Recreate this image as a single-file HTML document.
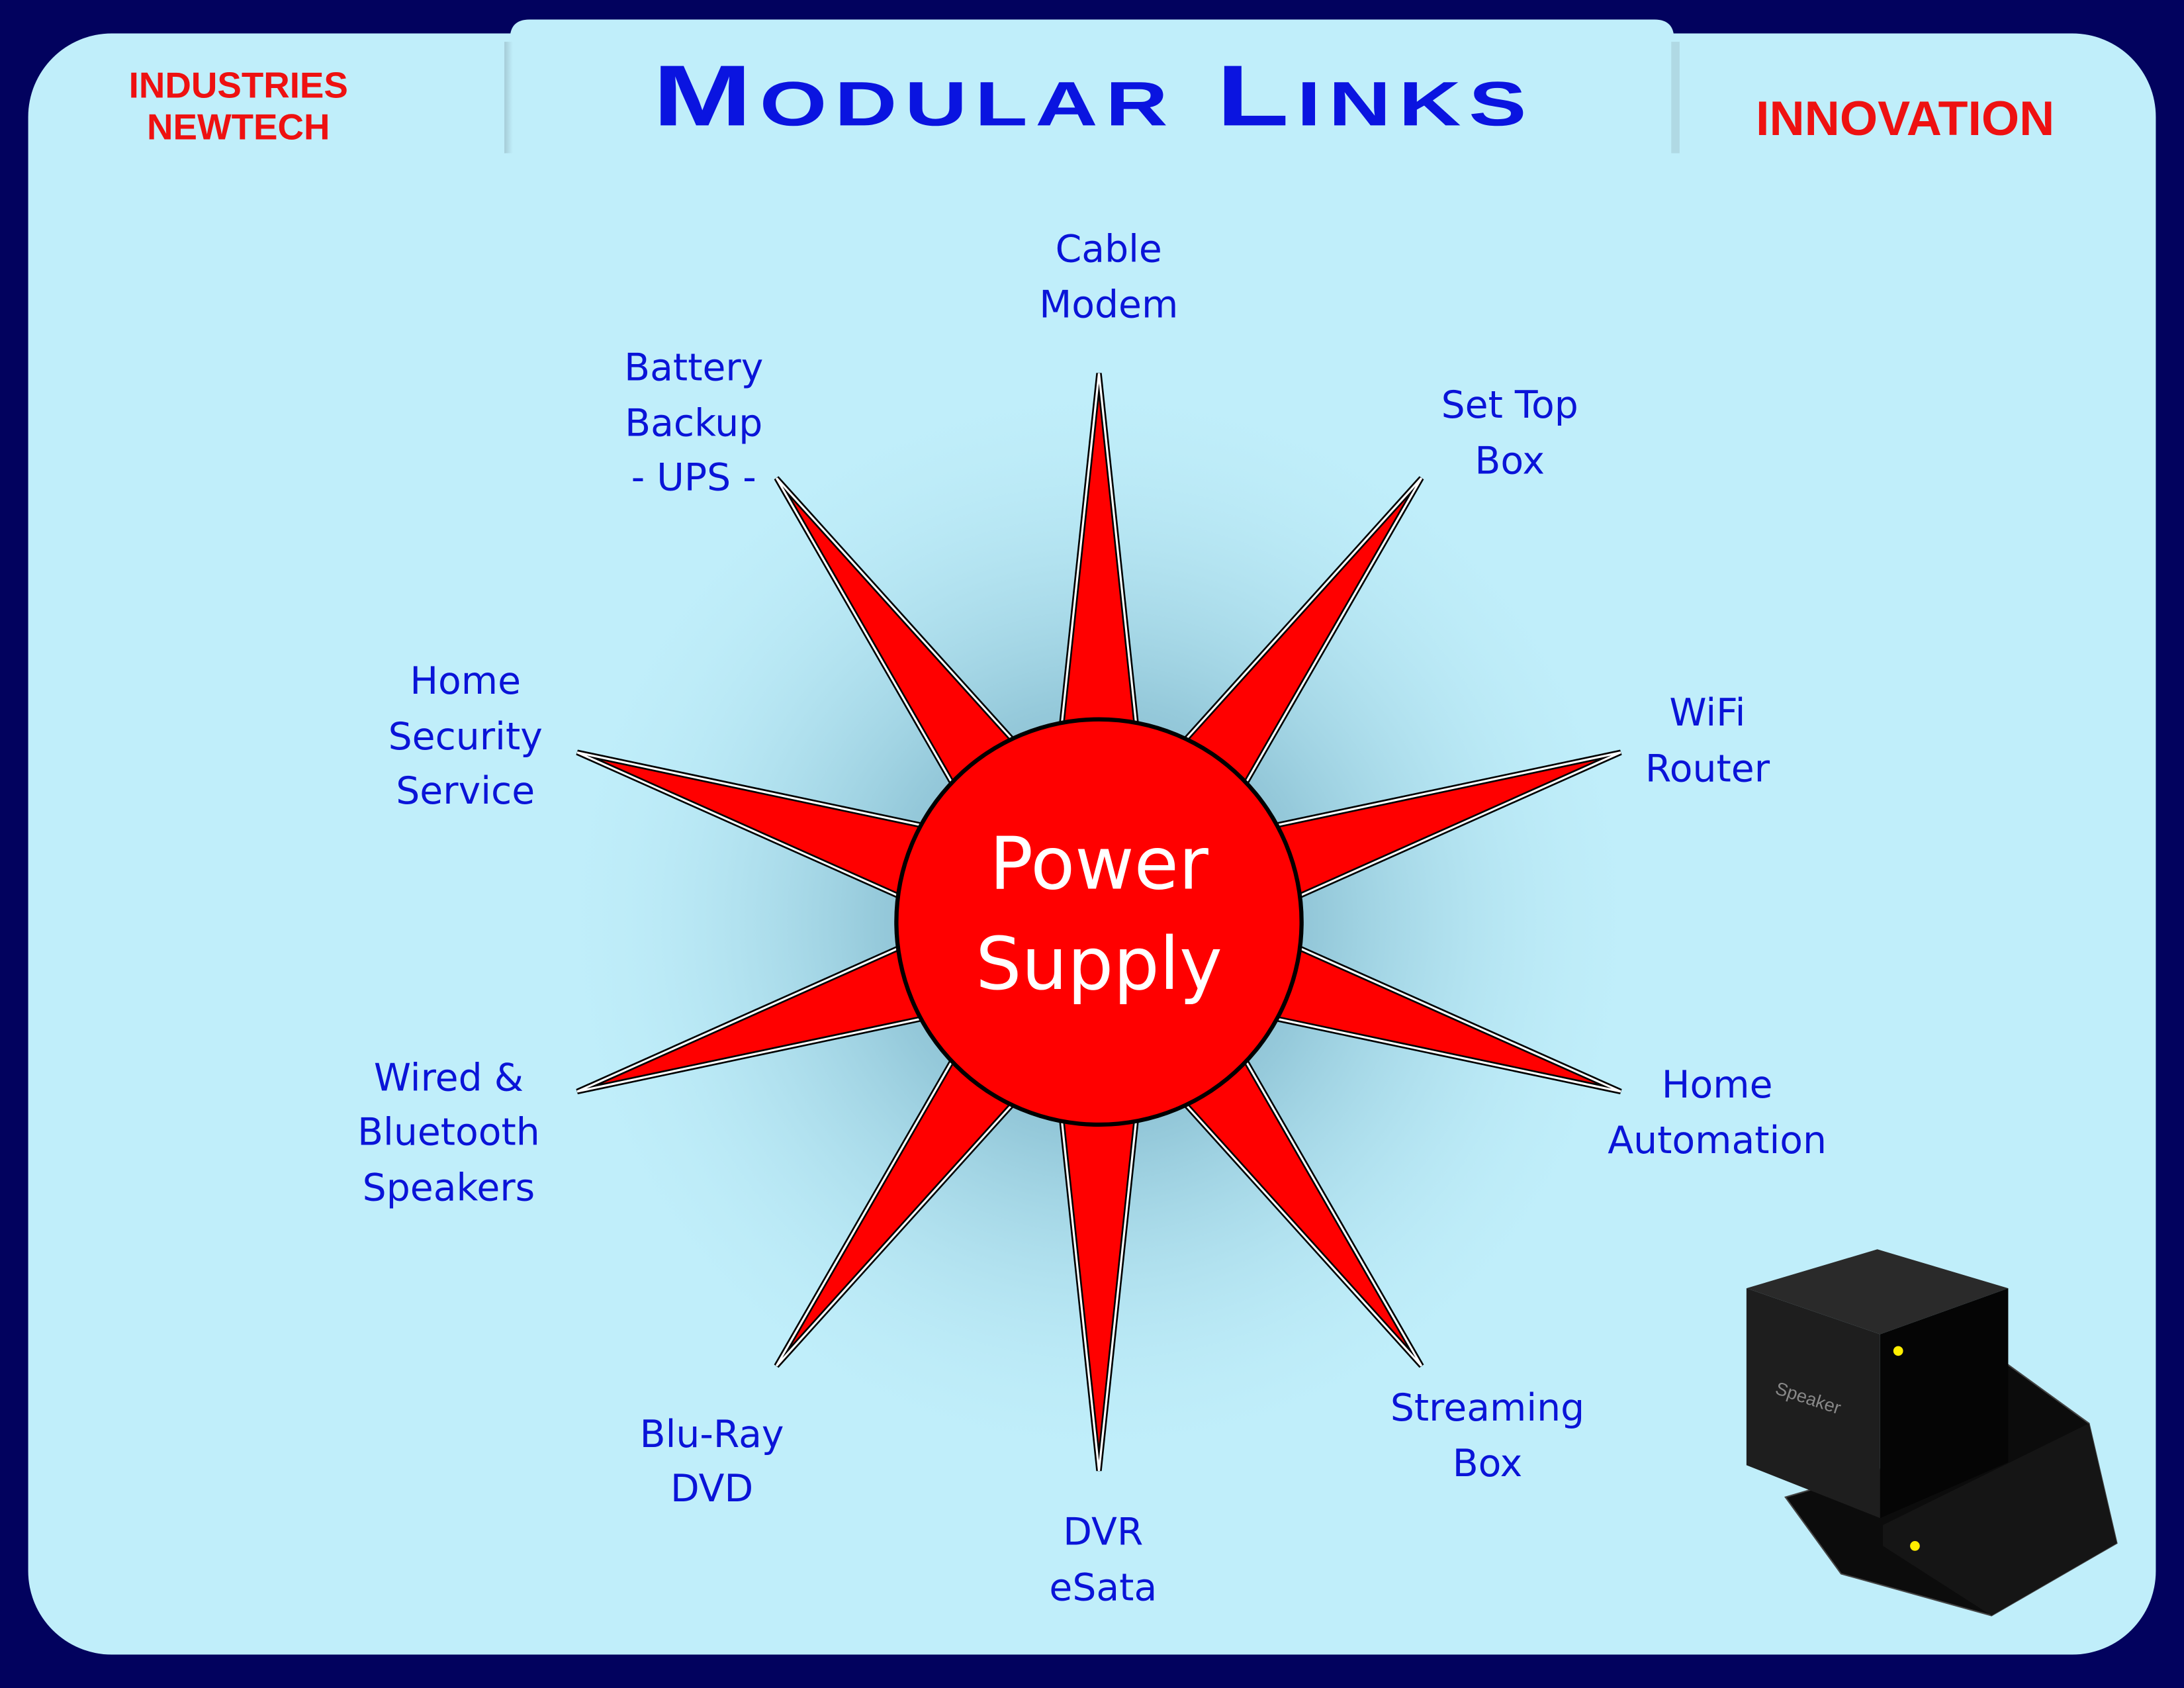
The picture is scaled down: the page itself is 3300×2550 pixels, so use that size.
<!DOCTYPE html>
<html><head><meta charset="utf-8"><style>
html,body{margin:0;padding:0;background:#02025e;}
svg{display:block}
</style></head><body>
<svg width="3300" height="2550" viewBox="0 0 1568 1212" xmlns="http://www.w3.org/2000/svg">
<defs>
<radialGradient id="glow" cx="789" cy="662" r="400" gradientUnits="userSpaceOnUse">
<stop offset="0" stop-color="#6fa2b8"/>
<stop offset="0.4" stop-color="#96cadb"/>
<stop offset="1" stop-color="#c0eefa" stop-opacity="0"/>
</radialGradient>
<linearGradient id="tabL" x1="0" x2="1"><stop offset="0" stop-color="#8aa8b2"/><stop offset="1" stop-color="#c0eefa"/></linearGradient>
</defs>
<rect width="1568" height="1212" fill="#02025e"/>
<rect x="20" y="24" width="1528" height="1164" rx="60" fill="#c0eefa"/>
<path d="M366 110 L366 28 Q366 14 380 14 L1188 14 Q1202 14 1202 28 L1202 110 Z" fill="#c0eefa"/>
<rect x="362" y="30" width="6" height="80" fill="url(#tabL)" opacity="0.5"/>
<rect x="1200" y="30" width="6" height="80" fill="#8aa8b2" opacity="0.3"/>
<g transform="translate(785 90) scale(1.38 1)">
<text x="0" y="0" text-anchor="middle" font-family="Liberation Sans, sans-serif" font-weight="bold" font-size="62" fill="#0a14e0" letter-spacing="4">M<tspan font-size="45">ODULAR</tspan> L<tspan font-size="45">INKS</tspan></text>
</g>
<g font-family="Liberation Sans, sans-serif" font-weight="bold" fill="#ee1111" text-anchor="middle">
<text x="171" y="70" font-size="26">INDUSTRIES</text>
<text x="171" y="100" font-size="26">NEWTECH</text>
<text x="1368" y="97" font-size="35">INNOVATION</text>
</g>
<circle cx="789" cy="662" r="400" fill="url(#glow)"/>
<g transform="translate(789 662)">
<g id="sp">
<polygon points="0,-394 -28,-130 28,-130" fill="#ff0000" stroke="#000" stroke-width="4"/>
<polygon points="0,-394 -28,-130 28,-130" fill="none" stroke="#fff" stroke-width="1.5"/>
</g>
<use href="#sp" transform="rotate(36)"/>
<use href="#sp" transform="rotate(72)"/>
<use href="#sp" transform="rotate(108)"/>
<use href="#sp" transform="rotate(144)"/>
<use href="#sp" transform="rotate(180)"/>
<use href="#sp" transform="rotate(216)"/>
<use href="#sp" transform="rotate(252)"/>
<use href="#sp" transform="rotate(288)"/>
<use href="#sp" transform="rotate(324)"/>
<circle r="147" fill="#000"/>
<circle r="144" fill="#ff0000"/>
</g>
<g font-family="DejaVu Sans, sans-serif" font-size="52" fill="#fff" text-anchor="middle">
<text x="789" y="638">Power</text>
<text x="789" y="710">Supply</text>
</g>
<g font-family="DejaVu Sans, sans-serif" font-size="27" fill="#0a14d8" text-anchor="middle">
<text x="796" y="188">Cable</text><text x="796" y="228">Modem</text>
<text x="1084" y="300">Set Top</text><text x="1084" y="340">Box</text>
<text x="498" y="273">Battery</text><text x="498" y="313">Backup</text><text x="498" y="352">- UPS -</text>
<text x="1226" y="521">WiFi</text><text x="1226" y="561">Router</text>
<text x="334" y="498">Home</text><text x="334" y="538">Security</text><text x="334" y="577">Service</text>
<text x="1233" y="788">Home</text><text x="1233" y="828">Automation</text>
<text x="322" y="783">Wired &amp;</text><text x="322" y="822">Bluetooth</text><text x="322" y="862">Speakers</text>
<text x="511" y="1039">Blu-Ray</text><text x="511" y="1078">DVD</text>
<text x="792" y="1109">DVR</text><text x="792" y="1149">eSata</text>
<text x="1068" y="1020">Streaming</text><text x="1068" y="1060">Box</text>
</g>
<g>
<polygon points="1282,1075 1322,1130 1430,1160 1520,1108 1500,1022 1442,980 1350,1055" fill="#0c0c0c" stroke="#444" stroke-width="1"/>
<polygon points="1352,1095 1500,1022 1520,1108 1430,1160 1352,1110" fill="#151515"/>
<polygon points="1254,925 1348,897 1442,925 1350,958" fill="#2a2a2a"/>
<polygon points="1254,925 1350,958 1350,1090 1254,1052" fill="#1e1e1e"/>
<polygon points="1350,958 1442,925 1442,1050 1350,1090" fill="#050505"/>
<circle cx="1363" cy="970" r="3.5" fill="#ffee00"/>
<circle cx="1375" cy="1110" r="3.5" fill="#ffee00"/>
<text x="1297" y="1008" font-family="Liberation Sans, sans-serif" font-size="13" fill="#888" text-anchor="middle" transform="rotate(18 1297 1008)">Speaker</text>
</g>
</svg>
</body></html>
